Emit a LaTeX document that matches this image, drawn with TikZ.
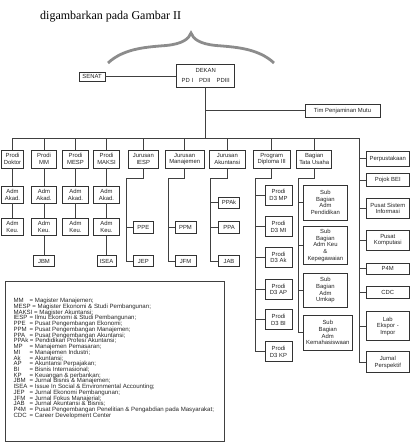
\documentclass[tikz,border=0pt]{standalone}
\usepackage{fontspec}
\setmainfont{Liberation Sans}
\newfontfamily\judulfont{Liberation Serif}
\newlength\ketw
\newcommand\ket[2]{\settowidth\ketw{#1}\ifdim\ketw<14.5pt\setlength\ketw{14.5pt}\fi\makebox[\ketw][l]{#1} = #2}

\begin{document}
\begin{tikzpicture}[x=1pt,y=-1pt,
  box/.style={rectangle, draw=black!80, line width=0.8pt, fill=white, align=center,
              inner sep=0pt, text=black!85, font=\fontsize{5.9}{6.7}\selectfont},
  prodi/.style={box, minimum width=26, minimum height=18},
  adm/.style={box, minimum width=26, minimum height=16.3},
  kecil/.style={box, minimum width=21, minimum height=11.5},
  d3/.style={box, minimum width=27, minimum height=20},
  sub/.style={box, minimum width=43.8, minimum height=35},
  unit/.style={box, minimum width=42.3},
  conn/.style={draw=black!75, line width=0.7pt},
  brace/.style={draw=black!45, line width=2.8pt},
  judul/.style={anchor=base west, inner sep=0pt, font=\judulfont\fontsize{12}{14}\selectfont},
  ket/.style={anchor=north west, align=left, inner sep=0pt, text=black!85,
              font=\fontsize{6.1}{5.72}\selectfont}
]
\useasboundingbox (0,0) rectangle (415,443);

\node[judul](judul) at (40,19.5){digambarkan pada Gambar II};
\draw[brace] (108,63) .. controls (124,48) and (148,47) .. (166,45.5)
  .. controls (182,44) and (189,39) .. (191,33)
  .. controls (193,39) and (200,44) .. (216,45.5)
  .. controls (234,47) and (258,48) .. (274,63);

\node[box, minimum width=26, minimum height=9](senat) at (92,76.5){SENAT};
\node[box, minimum width=58, minimum height=23](dekan) at (205.7,75.5){DEKAN\\[3pt]PD I\hspace{6pt}PDII\hspace{6pt}PDIII};
\node[box, minimum width=75, minimum height=13](tim) at (342.5,110.5){Tim Penjaminan Mutu};

\node[prodi, minimum width=21.6](doktor) at (12.5,159){Prodi\\Doktor};
\node[prodi, minimum width=25.5](mm) at (44,159){Prodi\\MM};
\node[prodi](mesp) at (75.5,159){Prodi\\MESP};
\node[prodi](maksi) at (106.5,159){Prodi\\MAKSI};
\node[prodi, minimum width=30](iesp) at (143.3,159){Jurusan\\IESP};
\node[prodi, minimum width=39.3](manaj) at (184.7,159){Jurusan\\Manajemen};
\node[prodi, minimum width=36.7](akun) at (227.3,159){Jurusan\\Akuntansi};
\node[prodi, minimum width=36.7](diploma) at (271.7,159){Program\\Diploma III};
\node[prodi, minimum width=35](tu) at (314.2,159){Bagian\\Tata Usaha};

\node[adm, minimum width=21.6](akad1) at (12.5,194.8){Adm\\Akad.};
\node[adm, minimum width=25.5](akad2) at (44,194.8){Adm\\Akad.};
\node[adm](akad3) at (75.5,194.8){Adm\\Akad.};
\node[adm](akad4) at (106.5,194.8){Adm\\Akad.};
\node[adm, minimum width=21.6](keu1) at (12.5,227){Adm\\Keu.};
\node[adm, minimum width=25.5](keu2) at (44,227){Adm\\Keu.};
\node[adm](keu3) at (75.5,227){Adm\\Keu.};
\node[adm](keu4) at (106.5,227){Adm\\Keu.};
\node[kecil](jbm) at (44,261){JBM};
\node[kecil, minimum width=19](isea) at (106.5,261){ISEA};

\node[kecil, minimum width=20, minimum height=12](ppe) at (143.3,227.6){PPE};
\node[kecil, minimum width=20](jep) at (143.3,261){JEP};
\node[kecil, minimum height=12](ppm) at (185.5,227.6){PPM};
\node[kecil](jfm) at (185.5,261){JFM};
\node[kecil, minimum width=21.7](ppak) at (229,202.8){PPAk};
\node[kecil, minimum width=21.7, minimum height=12](ppa) at (229,227.6){PPA};
\node[kecil, minimum width=21.7](jab) at (229,261){JAB};

\node[d3](d3mp) at (278.5,195){Prodi\\D3 MP};
\node[d3](d3mi) at (278.5,226.7){Prodi\\D3 MI};
\node[d3](d3ak) at (278.5,257.3){Prodi\\D3 Ak};
\node[d3](d3ap) at (278.5,289.3){Prodi\\D3 AP};
\node[d3](d3bi) at (278.5,319.7){Prodi\\D3 BI};
\node[d3](d3kp) at (278.5,351.7){Prodi\\D3 KP};

\node[sub](pendidikan) at (325.4,202.5){Sub\\Bagian\\Adm\\Pendidikan};
\node[sub, minimum height=37.3](kepeg) at (325.4,245.3){Sub\\Bagian\\Adm Keu\\\&\\Kepegawaian};
\node[sub, minimum height=34.3](umkap) at (325.4,290.2){Sub\\Bagian\\Adm\\Umkap};
\node[sub, minimum width=49, minimum height=34.7](mhs) at (327.8,332.7){Sub\\Bagian\\Adm\\Kemahasiswaan};

\node[unit, minimum height=15](perpus) at (387.8,158.5){Perpustakaan};
\node[unit, minimum height=13.4](pojok) at (387.8,180){Pojok BEI};
\node[unit, minimum height=20](psi) at (387.8,208.3){Pusat Sistem\\Informasi};
\node[unit, minimum height=20](komputasi) at (387.8,240){Pusat\\Komputasi};
\node[unit, minimum height=11.5](p4m) at (387.8,268.7){P4M};
\node[unit, minimum height=12.3](cdc) at (387.8,292.2){CDC};
\node[unit, minimum height=29](lab) at (387.8,326.2){Lab\\Ekspor -\\Impor};
\node[unit, minimum height=21](jurnal) at (387.8,362.2){Jurnal\\Perspektif};

\coordinate(bar) at (205.7,138.3);
\coordinate(rbus) at (359,138.3);
\coordinate(ibus) at (126.7,178.3);
\coordinate(mbus) at (168.3,178.3);
\coordinate(abus) at (210.7,178.3);
\coordinate(dbus) at (255,178.3);
\coordinate(tbus) at (298.3,178.3);

\draw[conn](senat.east) -- (senat.east -| dekan.west);
\draw[conn](dekan) -- (bar);
\draw[conn](bar |- tim) -- (tim);
\draw[conn](doktor.north |- bar) -- (rbus) -- (rbus |- jurnal);
\foreach \n in {doktor,mm,mesp,maksi,iesp,manaj,akun,diploma,tu}
  \draw[conn](\n) -- (\n |- bar);
\foreach \n in {perpus,pojok,psi,komputasi,p4m,cdc,lab,jurnal}
  \draw[conn](\n) -- (\n -| rbus);

\draw[conn](doktor) -- (akad1) -- (keu1);
\draw[conn](mm) -- (akad2) -- (keu2) -- (jbm);
\draw[conn](mesp) -- (akad3) -- (keu3);
\draw[conn](maksi) -- (akad4) -- (keu4) -- (isea);

\draw[conn](iesp) |- (ibus) -- (ibus |- jep) -- (jep);
\draw[conn](ppe) -- (ppe -| ibus);
\draw[conn](manaj) |- (mbus) -- (mbus |- jfm) -- (jfm);
\draw[conn](ppm) -- (ppm -| mbus);
\draw[conn](akun) |- (abus) -- (abus |- jab) -- (jab);
\foreach \n in {ppak,ppa}
  \draw[conn](\n) -- (\n -| abus);
\draw[conn](diploma) |- (dbus) -- (dbus |- d3kp) -- (d3kp);
\foreach \n in {d3mp,d3mi,d3ak,d3ap,d3bi}
  \draw[conn](\n) -- (\n -| dbus);
\draw[conn](tu) |- (tbus) -- (tbus |- mhs) -- (mhs);
\foreach \n in {pendidikan,kepeg,umkap}
  \draw[conn](\n) -- (\n -| tbus);

\draw[conn, line width=0.9pt](5,281.7) rectangle (224,441);
\node[ket](keterangan) at (13.3,298.2){%
\ket{MM}{Magister Manajemen;}\\
\ket{MESP}{Magister Ekonomi \& Studi Pembangunan;}\\
\ket{MAKSI}{Magister Akuntansi;}\\
\ket{IESP}{Ilmu Ekonomi \& Studi Pembangunan;}\\
\ket{PPE}{Pusat Pengembangan Ekonomi;}\\
\ket{PPM}{Pusat Pengembangan Manajemen;}\\
\ket{PPA}{Pusat Pengembangan Akuntansi;}\\
\ket{PPAk}{Pendidikan Profesi Akuntansi;}\\
\ket{MP}{Manajemen Pemasaran;}\\
\ket{MI}{Manajemen Industri;}\\
\ket{Ak}{Akuntansi;}\\
\ket{AP}{Akuntansi Perpajakan;}\\
\ket{BI}{Bisnis Internasional;}\\
\ket{KP}{Keuangan \& perbankan;}\\
\ket{JBM}{Jurnal Bisnis \& Manajemen;}\\
\ket{ISEA}{Issue In Social \& Environmental Accounting;}\\
\ket{JEP}{Jurnal Ekonomi Pembangunan;}\\
\ket{JFM}{Jurnal Fokus Manajerial;}\\
\ket{JAB}{Jurnal Akuntansi \& Bisnis;}\\
\ket{P4M}{Pusat Pengembangan Penelitian \& Pengabdian pada Masyarakat;}\\
\ket{CDC}{Career Development Center}};
\end{tikzpicture}
\end{document}
